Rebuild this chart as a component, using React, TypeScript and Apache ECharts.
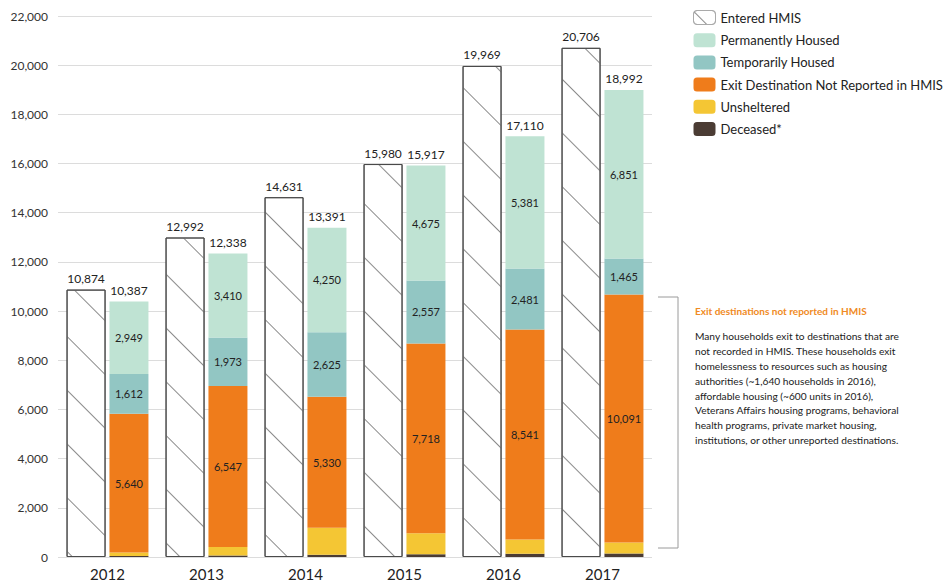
import React, { useEffect, useRef } from "react";
import * as echarts from "echarts";

const years = ["2012", "2013", "2014", "2015", "2016", "2017"];
const entered = [10874, 12992, 14631, 15980, 19969, 20706];
const exitTotals = [10387, 12338, 13391, 15917, 17110, 18992];
const permanent = [2949, 3410, 4250, 4675, 5381, 6851];
const temporary = [1612, 1973, 2625, 2557, 2481, 1465];
const notReported = [5640, 6547, 5330, 7718, 8541, 10091];
const unsheltered = [146, 348, 1096, 857, 577, 445];
const deceased = [40, 60, 90, 110, 130, 140];
const yTicks = { min: 0, max: 22000, interval: 2000 };

const noteTitle = "Exit destinations not reported in HMIS";
const noteBody = [
  "Many households exit to destinations that are",
  "not recorded in HMIS. These households exit",
  "homelessness to resources such as housing",
  "authorities (~1,640 households in 2016),",
  "affordable housing (~600 units in 2016),",
  "Veterans Affairs housing programs, behavioral",
  "health programs, private market housing,",
  "institutions, or other unreported destinations.",
];

const fmt = (v: number) => v.toLocaleString("en-US");
const FONT = "Lato, 'Open Sans', sans-serif";

export default function App() {
  const ref = useRef<HTMLDivElement>(null);
  useEffect(() => {
    if (!ref.current) return;
    const chart = echarts.init(ref.current, null, { renderer: "svg" });
    const innerLabel = {
      show: true,
      position: "inside",
      color: "#222",
      fontSize: 11,
      fontFamily: FONT,
      formatter: (p: any) => fmt(p.value),
    };
    const stackBase = { type: "bar", stack: "exit", barWidth: 39 };
    const hatch = {
      symbol: "rect",
      symbolSize: 1,
      dashArrayX: [1, 0],
      dashArrayY: [1, 37],
      rotation: Math.PI / 4,
      color: "#8a8a8a",
    };
    chart.setOption({
      animation: false,
      backgroundColor: "#fff",
      grid: { left: 58, right: 299, top: 16, bottom: 25 },
      legend: {
        orient: "vertical",
        left: 688,
        top: 5,
        itemWidth: 22,
        itemHeight: 14,
        itemGap: 8.2,
        textStyle: { color: "#222", fontSize: 13, fontFamily: FONT },
        data: [
          { name: "Entered HMIS", itemStyle: { borderColor: "#aaa", borderWidth: 1 } },
          "Permanently Housed",
          "Temporarily Housed",
          "Exit Destination Not Reported in HMIS",
          "Unsheltered",
          "Deceased*",
        ],
      },
      xAxis: {
        type: "category",
        data: years,
        axisLine: { show: false },
        axisTick: { show: false },
        axisLabel: { color: "#222", fontSize: 15, fontFamily: FONT, margin: 9 },
      },
      yAxis: {
        type: "value",
        ...yTicks,
        axisLine: { show: false },
        axisTick: { show: false },
        axisLabel: {
          color: "#333",
          fontSize: 12,
          fontFamily: FONT,
          margin: 10,
          formatter: (v: number) => fmt(v),
        },
        splitLine: { lineStyle: { color: "#dcdcdc", width: 1 } },
      },
      series: [
        {
          name: "Entered HMIS",
          type: "bar",
          barWidth: 39,
          barGap: "10%",
          data: entered,
          itemStyle: {
            color: "#ffffff",
            borderColor: "#4a4a4a",
            borderWidth: 1,
            decal: hatch,
          },
          label: {
            show: true,
            position: "top",
            distance: 5,
            color: "#222",
            fontSize: 12,
            fontFamily: FONT,
            formatter: (p: any) => fmt(p.value),
          },
        },
        {
          ...stackBase,
          name: "Deceased*",
          data: deceased,
          itemStyle: { color: "#4b3c34" },
        },
        {
          ...stackBase,
          name: "Unsheltered",
          data: unsheltered,
          itemStyle: { color: "#f4c634" },
        },
        {
          ...stackBase,
          name: "Exit Destination Not Reported in HMIS",
          data: notReported,
          itemStyle: { color: "#ef7c1b" },
          label: innerLabel,
        },
        {
          ...stackBase,
          name: "Temporarily Housed",
          data: temporary,
          itemStyle: { color: "#92c6c3" },
          label: innerLabel,
        },
        {
          ...stackBase,
          name: "Permanently Housed",
          data: permanent,
          itemStyle: { color: "#bfe3d3" },
          label: innerLabel,
        },
        {
          ...stackBase,
          name: "total",
          data: exitTotals.map(() => 0),
          itemStyle: { color: "transparent" },
          label: {
            show: true,
            position: "top",
            distance: 5,
            color: "#222",
            fontSize: 12,
            fontFamily: FONT,
            formatter: (p: any) => fmt(exitTotals[p.dataIndex]),
          },
        },
      ],
      graphic: [
        {
          type: "polyline",
          shape: { points: [[658, 297], [678, 297], [678, 548], [658, 548]] },
          style: { stroke: "#9a9a9a", lineWidth: 1, fill: "none" },
        },
        {
          type: "text",
          left: 695,
          top: 306,
          style: {
            text: noteTitle,
            fill: "#f08a24",
            font: `bold 10px ${FONT}`,
          },
        },
        {
          type: "text",
          left: 695,
          top: 329,
          style: {
            text: noteBody.join("\n"),
            fill: "#222",
            font: `10.2px ${FONT}`,
            lineHeight: 14.8,
          },
        },
      ],
    });
    return () => chart.dispose();
  }, []);
  return <div ref={ref} style={{ width: 951, height: 582, position: "absolute", left: 0, top: 0 }} />;
}
